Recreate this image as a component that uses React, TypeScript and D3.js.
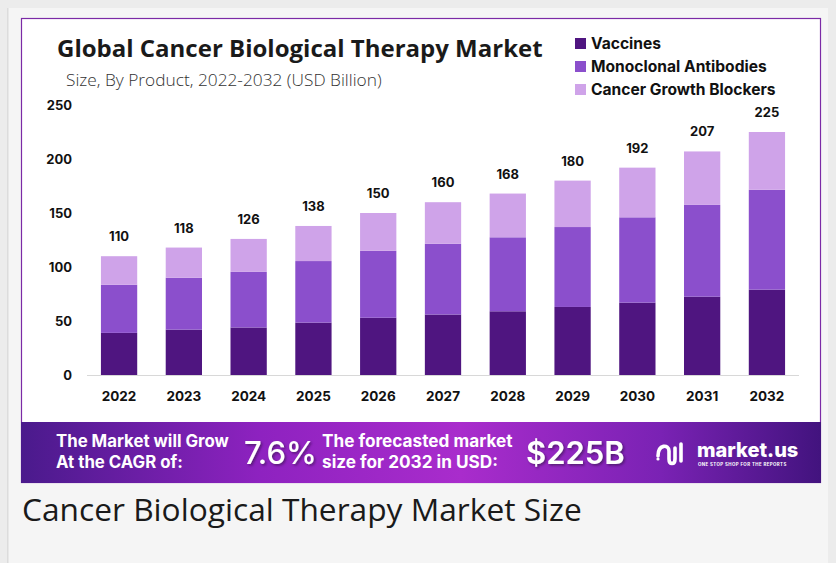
import React, { useEffect, useRef } from "react";
import * as d3 from "d3";

// data (USD billion)
const years = ["2022", "2023", "2024", "2025", "2026", "2027", "2028", "2029", "2030", "2031", "2032"];
const vaccines = [39, 42, 44, 48.5, 53, 56, 59, 63, 67, 72.5, 79];
const monoclonal = [44.5, 48, 51.5, 57, 62, 65.5, 68.5, 74, 79, 85, 92.5];
const totals = [110, 118, 126, 138, 150, 160, 168, 180, 192, 207, 225];
const seriesNames = ["Vaccines", "Monoclonal Antibodies", "Cancer Growth Blockers"];
const yTicks = [0, 50, 100, 150, 200, 250];

const colors = ["#4f1580", "#8b4fcc", "#cfa3e9"];
const boldFont = "Inter, 'DejaVu Sans', sans-serif";

export default function App() {
  const ref = useRef<SVGSVGElement>(null);

  useEffect(() => {
    const svg = d3.select(ref.current);
    svg.selectAll("*").remove();

    // page background
    svg.append("rect").attr("width", 836).attr("height", 563).attr("fill", "#ececec");
    svg.append("rect").attr("x", 8).attr("y", 8).attr("width", 820).attr("height", 555).attr("fill", "#f5f5f5");
    svg.append("rect").attr("x", 7).attr("y", 8).attr("width", 1.5).attr("height", 555).attr("fill", "#dcdcdc");

    // chart image
    svg.append("rect").attr("x", 21.5).attr("y", 18.5).attr("width", 799).attr("height", 464)
      .attr("fill", "#fff").attr("stroke", "#7b2aa6").attr("stroke-width", 1.2);

    // title
    svg.append("text").attr("x", 57).attr("y", 57).text("Global Cancer Biological Therapy Market")
      .attr("font-family", "'Open Sans', sans-serif").attr("font-weight", 700).attr("font-size", 24)
      .attr("fill", "#1a1a1a");
    svg.append("text").attr("x", 66).attr("y", 86).text("Size, By Product, 2022-2032 (USD Billion)")
      .attr("font-family", "'Open Sans', sans-serif").attr("font-weight", 300).attr("font-size", 17.3)
      .attr("fill", "#333");

    // legend
    seriesNames.forEach((name, i) => {
      const ly = 43 + i * 23;
      svg.append("rect").attr("x", 575).attr("y", ly - 5).attr("width", 11).attr("height", 11).attr("fill", colors[i]);
      svg.append("text").attr("x", 591).attr("y", ly + 5.5).text(name)
        .attr("font-family", boldFont).attr("font-weight", 700).attr("font-size", 15.6).attr("fill", "#111");
    });

    const x = d3.scaleBand().domain(years).range([87, 799]).paddingInner(0.44).paddingOuter(0.215);
    const y = d3.scaleLinear().domain([0, 250]).range([375, 105]);

    const rows = years.map((yr, i) => ({
      year: yr,
      v: vaccines[i],
      m: monoclonal[i],
      c: totals[i] - vaccines[i] - monoclonal[i],
    }));
    const stack = d3.stack<any>().keys(["v", "m", "c"]);
    const layers = stack(rows);

    // y axis labels
    svg.append("g").selectAll("text").data(yTicks).join("text")
      .attr("x", 72).attr("y", (d) => y(d) + 5).attr("text-anchor", "end").text((d) => d)
      .attr("font-family", boldFont).attr("font-weight", 700).attr("font-size", 13).attr("fill", "#111");

    // bars
    svg.append("g").selectAll("g").data(layers).join("g")
      .attr("fill", (_d, i) => colors[i])
      .selectAll("rect").data((d) => d).join("rect")
      .attr("x", (d: any) => x(d.data.year)!).attr("width", x.bandwidth())
      .attr("y", (d) => y(d[1])).attr("height", (d) => y(d[0]) - y(d[1]));

    // baseline
    svg.append("line").attr("x1", 87).attr("x2", 799).attr("y1", 375.5).attr("y2", 375.5)
      .attr("stroke", "#d8d8d8").attr("stroke-width", 1);

    // totals
    svg.append("g").selectAll("text").data(rows).join("text")
      .attr("x", (d) => x(d.year)! + x.bandwidth() / 2).attr("y", (_d, i) => y(totals[i]) - 15)
      .attr("text-anchor", "middle").text((_d, i) => totals[i])
      .attr("font-family", boldFont).attr("font-weight", 700).attr("font-size", 13).attr("fill", "#111");

    // x labels
    svg.append("g").selectAll("text").data(years).join("text")
      .attr("x", (d) => x(d)! + x.bandwidth() / 2).attr("y", 401).attr("text-anchor", "middle").text((d) => d)
      .attr("font-family", boldFont).attr("font-weight", 700).attr("font-size", 13.5).attr("fill", "#111");

    // banner
    const defs = svg.append("defs");
    const grad = defs.append("linearGradient").attr("id", "bannerGrad").attr("x1", "0").attr("x2", "1");
    grad.append("stop").attr("offset", "0%").attr("stop-color", "#4a1a8c");
    grad.append("stop").attr("offset", "30%").attr("stop-color", "#8e22c0");
    grad.append("stop").attr("offset", "55%").attr("stop-color", "#a92ccc");
    grad.append("stop").attr("offset", "80%").attr("stop-color", "#7a22b4");
    grad.append("stop").attr("offset", "100%").attr("stop-color", "#42137e");
    const shadow = defs.append("filter").attr("id", "shadow");
    shadow.append("feDropShadow").attr("dx", 1.5).attr("dy", 1.5).attr("stdDeviation", 1.2)
      .attr("flood-color", "#2a0a40").attr("flood-opacity", 0.6);

    svg.append("rect").attr("x", 21).attr("y", 422).attr("width", 800).attr("height", 61).attr("fill", "url(#bannerGrad)");
    const banner = svg.append("g").attr("fill", "#fff").attr("font-family", boldFont).attr("font-weight", 700);
    banner.append("text").attr("x", 56).attr("y", 447).attr("font-size", 16.8).text("The Market will Grow");
    banner.append("text").attr("x", 56).attr("y", 468).attr("font-size", 16.8).text("At the CAGR of:");
    banner.append("text").attr("x", 244).attr("y", 464).attr("font-size", 31).attr("font-weight", 500)
      .attr("filter", "url(#shadow)").text("7.6%");
    banner.append("text").attr("x", 322).attr("y", 447).attr("font-size", 17.2).text("The forecasted market");
    banner.append("text").attr("x", 322).attr("y", 468).attr("font-size", 17.2).text("size for 2032 in USD:");
    banner.append("text").attr("x", 526).attr("y", 464).attr("font-size", 31).attr("font-weight", 600)
      .attr("filter", "url(#shadow)").text("$225B");

    // logo
    const logo = svg.append("g").attr("transform", "translate(656,440)");
    logo.append("path").attr("d", "M2 16 C2 4, 13 4, 13 11 L13 19 C13 25, 19 25, 19 19 L19 8")
      .attr("fill", "none").attr("stroke", "#fff").attr("stroke-width", 3.6).attr("stroke-linecap", "round");
    logo.append("circle").attr("cx", 2).attr("cy", 19).attr("r", 1.6).attr("fill", "#fff");
    logo.append("line").attr("x1", 25).attr("x2", 25).attr("y1", 4).attr("y2", 21)
      .attr("stroke", "#fff").attr("stroke-width", 3.6).attr("stroke-linecap", "round");
    logo.append("text").attr("x", 41).attr("y", 17).text("market.us").attr("fill", "#fff")
      .attr("font-family", boldFont).attr("font-weight", 800).attr("font-size", 20);
    logo.append("text").attr("x", 42).attr("y", 26).text("ONE STOP SHOP FOR THE REPORTS").attr("fill", "#fff")
      .attr("font-family", boldFont).attr("font-weight", 700).attr("font-size", 4.4).attr("letter-spacing", 0.4);

    // caption
    svg.append("text").attr("x", 22).attr("y", 521).text("Cancer Biological Therapy Market Size")
      .attr("font-family", "'Open Sans', sans-serif").attr("font-size", 31.7).attr("fill", "#1a1a1a");
  }, []);

  return (
    <svg ref={ref} width={836} height={563}
      style={{ position: "absolute", left: 0, top: 0, display: "block" }} />
  );
}
